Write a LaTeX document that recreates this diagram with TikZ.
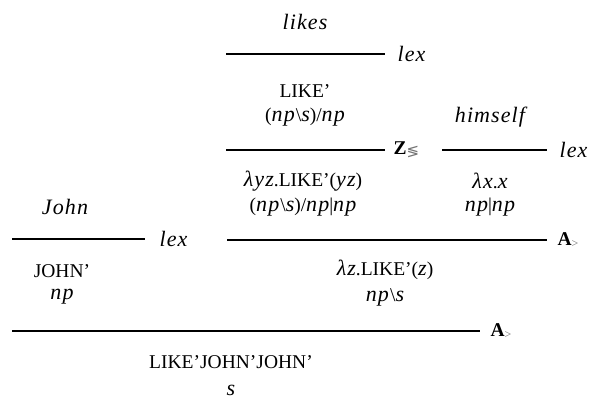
\documentclass[tikz,border=0pt]{standalone}
\usepackage{fontspec}
\setmainfont{Liberation Serif}[ItalicFeatures={LetterSpace=5}]
\newfontfamily\symfont{DejaVu Sans}
\usetikzlibrary{positioning}
\newcommand{\bs}{\textup{\textbackslash}}
\newcommand{\iz}[1]{{\fontsize{22}{24}\selectfont\itshape #1}}
\newcommand{\sub}[2][12]{\raisebox{-2pt}{\textcolor{black!55}{\fontsize{#1}{#1}\selectfont #2}}}
\tikzset{
	rule/.style={line width=1.3pt},
	txt/.style={inner sep=0pt, font=\fontsize{19.5}{22}\selectfont},
	tag/.style={right=12pt, inner sep=0pt, font=\fontsize{19.5}{22}\selectfont}
}

\begin{document}
\begin{tikzpicture}[x=1pt, y=-1pt]
	\useasboundingbox (0,0) rectangle (594,399);
	% likes
	\node[txt] (likes) at (305,22) {\iz{likes}};
	\coordinate (R1a) at (226,54);
	\coordinate (R1b) at (385,54);
	\draw[rule] (R1a) -- (R1b) node[tag] (lex1) {\iz{lex}};
	\node[txt] (like) at (305,91) {LIKE’};
	\node[txt] (likecat) at (305,117) {(\iz{np}\bs\iz{s})/\iz{np}};
	% himself
	\node[txt] (himself) at (490,117) {\iz{himself}};
	\coordinate (R2a) at (226,150);
	\coordinate (R2b) at (385,150);
	\draw[rule] (R2a) -- (R2b) node[tag, right=8pt] (zrule) {\textbf{Z}\sub[15]{\symfont ≶}};
	\coordinate (R3a) at (442,150);
	\coordinate (R3b) at (547,150);
	\draw[rule] (R3a) -- (R3b) node[tag] (lex2) {\iz{lex}};
	\node[txt] (likez) at (303,181) {\iz{λyz}.LIKE’(\iz{yz})};
	\node[txt] (likezcat) at (303,207) {(\iz{np}\bs\iz{s})/\iz{np}|\iz{np}};
	\node[txt] (self) at (490,181) {\iz{λx}.\iz{x}};
	\node[txt] (selfcat) at (490,207) {\iz{np}|\iz{np}};
	% John
	\node[txt] (john) at (65,207) {\iz{John}};
	\coordinate (R0a) at (12,239);
	\coordinate (R0b) at (145,239);
	\draw[rule] (R0a) -- (R0b) node[tag, right=14pt] (lex3) {\iz{lex}};
	\node[txt] (johnsem) at (62,271) {JOHN’};
	\node[txt] (johncat) at (62,297) {\iz{np}};
	% application
	\coordinate (R4a) at (227,240);
	\coordinate (R4b) at (547,240);
	\draw[rule] (R4a) -- (R4b) node[tag, right=10pt] (arule1) {\textbf{A}\sub{>}};
	\node[txt] (vp) at (385,270) {\iz{λz}.LIKE’(\iz{z})};
	\node[txt] (vpcat) at (385,297) {\iz{np}\bs\iz{s}};
	\coordinate (R5a) at (12,331);
	\coordinate (R5b) at (480,331);
	\draw[rule] (R5a) -- (R5b) node[tag, right=10pt] (arule2) {\textbf{A}\sub{>}};
	\node[txt] (sem) at (231,362) {LIKE’JOHN’JOHN’};
	\node[txt] (cat) at (231,390) {\iz{s}};
\end{tikzpicture}
\end{document}
